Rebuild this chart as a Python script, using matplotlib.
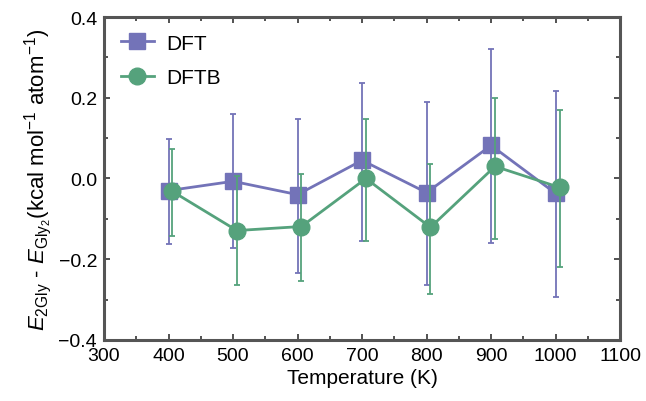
import matplotlib
matplotlib.use('Agg')
import matplotlib.pyplot as plt
from matplotlib.ticker import MultipleLocator, FuncFormatter

plt.rcParams['font.family'] = ['Liberation Sans', 'DejaVu Sans']
plt.rcParams['mathtext.fontset'] = 'custom'
plt.rcParams['mathtext.rm'] = 'Liberation Sans'
plt.rcParams['mathtext.it'] = 'Liberation Sans:italic'

# Values
temps = [400, 500, 600, 700, 800, 900, 1000]
dft = [-0.030, -0.007, -0.040, 0.045, -0.035, 0.082, -0.037]
dft_hi = [0.099, 0.160, 0.148, 0.237, 0.190, 0.320, 0.217]
dft_lo = [-0.163, -0.173, -0.233, -0.156, -0.265, -0.160, -0.294]
dftb = [-0.032, -0.129, -0.119, 0.000, -0.121, 0.030, -0.022]
dftb_hi = [0.074, 0.005, 0.012, 0.148, 0.035, 0.200, 0.170]
dftb_lo = [-0.143, -0.264, -0.255, -0.156, -0.287, -0.150, -0.220]

c_dft = '#7373b8'
c_dftb = '#55a27c'

fig = plt.figure(figsize=(6.46, 4.02), dpi=100)
ax = fig.add_axes([0.161, 0.152, 0.799, 0.803])

err_dft = [[v - l for v, l in zip(dft, dft_lo)], [h - v for v, h in zip(dft, dft_hi)]]
err_dftb = [[v - l for v, l in zip(dftb, dftb_lo)], [h - v for v, h in zip(dftb, dftb_hi)]]

e1 = ax.errorbar(temps, dft, yerr=err_dft, color=c_dft, marker='s', markersize=12,
                 linewidth=2, elinewidth=1.3, capsize=2, capthick=1.3, zorder=3)
e2 = ax.errorbar([t + 6 for t in temps], dftb, yerr=err_dftb, color=c_dftb, marker='o',
                 markersize=12, linewidth=2, elinewidth=1.3, capsize=2, capthick=1.3,
                 zorder=4)

ax.set_xlim(300, 1100)
ax.set_ylim(-0.4, 0.4)
ax.xaxis.set_major_locator(MultipleLocator(100))
ax.xaxis.set_minor_locator(MultipleLocator(50))
ax.yaxis.set_major_locator(MultipleLocator(0.2))
ax.yaxis.set_minor_locator(MultipleLocator(0.1))
ax.yaxis.set_major_formatter(FuncFormatter(
    lambda v, p: ('%.1f' % v).replace('-', '\u2212') if abs(v) > 1e-9 else '0.0'))
ax.tick_params(which='both', direction='in', top=True, right=True, labelsize=14,
               color='#333333', pad=5)
ax.tick_params(which='major', length=4, width=1.2)
ax.tick_params(which='minor', length=3, width=1.2)
for s in ax.spines.values():
    s.set_linewidth(2.2)
    s.set_color('#555555')

ax.set_xlabel('Temperature (K)', fontsize=15, labelpad=3)
ax.set_ylabel(r'$E_{\mathrm{2Gly}}$ - $E_{\mathrm{Gly}_2}$(kcal mol$^{-1}$ atom$^{-1}$)',
              fontsize=16, labelpad=3)

ax.legend([e1[0], e2[0]], ['DFT', 'DFTB'], loc='upper left', frameon=False,
          fontsize=15, handlelength=1.6, borderaxespad=0.4, labelspacing=0.75,
          handletextpad=0.6)

plt.savefig('out.png', dpi=100)
